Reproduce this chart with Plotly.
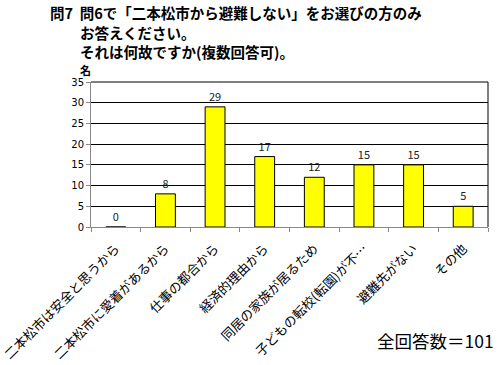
import plotly.graph_objects as go

categories = ["二本松市は安全と思うから", "二本松市に愛着があるから", "仕事の都合から", "経済的理由から",
              "同居の家族が居るため", "子どもの転校(転園)が不…", "避難先がない", "その他"]
values = [0, 8, 29, 17, 12, 15, 15, 5]
y_ticks = [0, 5, 10, 15, 20, 25, 30, 35]

FONT = "Noto Sans CJK JP"
W, H = 500, 365
ml, mr, mt, mb = 91, 12, 82, 138
pw, ph = W - ml - mr, H - mt - mb


def px2paper(px, py):
    return (px - ml) / pw, (H - mb - py) / ph


fig = go.Figure()
fig.add_trace(go.Bar(
    x=categories, y=values,
    marker=dict(color="#FFFF00", line=dict(color="black", width=1)),
    text=[str(v) for v in values], textposition="outside",
    textfont=dict(family=FONT, size=11, color="#222"),
    cliponaxis=False, width=0.4,
))

anns = []
for txt, x, y, anchor, size in [
    ("<b>問7  問6で「二本松市から避難しない」をお選びの方のみ</b>", 48, 13, "left", 14.5),
    ("<b>お答えください。</b>", 78, 32, "left", 14.5),
    ("<b>それは何故ですか(複数回答可)。</b>", 78, 51, "left", 14.5),
    ("<b>名</b>", 85, 70, "center", 11),
    ("全回答数＝101", 496, 340, "right", 17.5),
]:
    ax, ay = px2paper(x, y)
    anns.append(dict(text=txt, x=ax, y=ay, xref="paper", yref="paper", showarrow=False,
                     xanchor=anchor, yanchor="middle", font=dict(family=FONT, size=size)))

fig.update_layout(
    width=W, height=H,
    margin=dict(l=ml, r=mr, t=mt, b=mb),
    paper_bgcolor="white", plot_bgcolor="white",
    showlegend=False,
    font=dict(family=FONT, color="black"),
    xaxis=dict(
        tickangle=-45, tickfont=dict(family=FONT, size=13, color="black"),
        showline=True, linecolor="#888", linewidth=1, automargin=False,
        ticks="outside", tickson="boundaries", tickcolor="#888", ticklen=4,
        ticklabelstandoff=8,
        showgrid=False,
    ),
    yaxis=dict(
        range=[0, 35], tickvals=y_ticks, automargin=False,
        tickfont=dict(family="DejaVu Sans", size=10, color="black"),
        showline=True, linecolor="#888", linewidth=1,
        ticks="outside", tickcolor="#888", ticklen=4,
        showgrid=True, gridcolor="black", gridwidth=1, zeroline=False,
    ),
    annotations=anns,
)

# border of plot area (top and right)
fig.add_shape(type="line", xref="paper", yref="paper", x0=0, y0=1, x1=1, y1=1,
              line=dict(color="black", width=1), layer="above")
fig.add_shape(type="line", xref="paper", yref="paper", x0=1, y0=0, x1=1, y1=1,
              line=dict(color="black", width=1), layer="above")

fig.write_html("out.html", config={"displayModeBar": False},
               post_script="document.body.style.margin='0';document.body.style.overflow='hidden';")
